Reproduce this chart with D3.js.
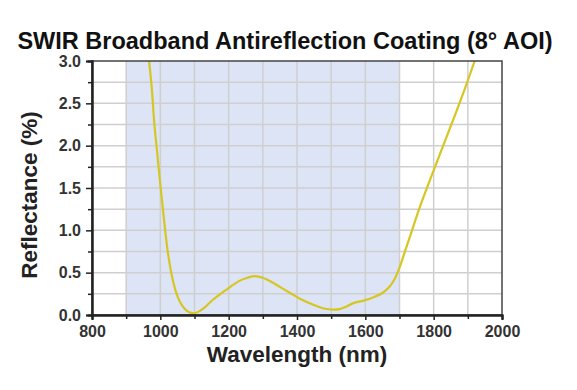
<!DOCTYPE html>
<html><head><meta charset="utf-8">
<script src="https://cdn.jsdelivr.net/npm/d3@7"></script>
<style>body{margin:0;background:#fff;font-family:"Liberation Sans",Arial,sans-serif;}</style>
</head><body><svg id="c" width="577" height="390"></svg>
<script>
const wavelength = [967,975,982,990,1001,1012,1023,1035,1046,1058,1070,1083,1098,1112,1130,1154,1180,1204,1230,1255,1277,1300,1330,1355,1380,1410,1448,1475,1500,1525,1545,1565,1595,1624,1650,1670,1685,1700,1715,1735,1760,1804,1850,1892,1920];
const reflectance = [3.0,2.68,2.28,1.95,1.5,1.08,0.71,0.44,0.27,0.15,0.08,0.035,0.02,0.04,0.09,0.18,0.26,0.33,0.4,0.44,0.46,0.44,0.38,0.32,0.26,0.19,0.12,0.08,0.065,0.07,0.1,0.14,0.17,0.21,0.26,0.33,0.42,0.56,0.74,0.98,1.28,1.75,2.23,2.68,3.0];
const band = [900,1700];
const xTicks = [800,1000,1200,1400,1600,1800,2000];
const yTicks = [0,0.5,1.0,1.5,2.0,2.5,3.0];
const title = "SWIR Broadband Antireflection Coating (8° AOI)";
const xTitle = "Wavelength (nm)";
const yTitle = "Reflectance (%)";

const svg = d3.select("#c");
const L=92,R=502,T=61,B=315;
const x = d3.scaleLinear().domain([800,2000]).range([L,R]);
const y = d3.scaleLinear().domain([0,3]).range([B,T]);

svg.append("rect").attr("x",x(band[0])).attr("y",T).attr("width",x(band[1])-x(band[0])).attr("height",B-T).attr("fill","#dde4f5");

const g = svg.append("g");
d3.range(900,2000,100).forEach(v=>g.append("line").attr("x1",x(v)).attr("x2",x(v)).attr("y1",T).attr("y2",B).attr("stroke","#cfcfcf").attr("stroke-width",1.5));
d3.range(0.25,3,0.25).forEach(v=>g.append("line").attr("x1",L).attr("x2",R).attr("y1",y(v)).attr("y2",y(v)).attr("stroke","#cfcfcf").attr("stroke-width",1.5));

svg.append("defs").append("clipPath").attr("id","cp").append("rect").attr("x",L).attr("y",T).attr("width",R-L).attr("height",B-T);
svg.append("path").datum(wavelength.map((w,i)=>[w,reflectance[i]]))
  .attr("clip-path","url(#cp)")
  .attr("d",d3.line().x(d=>x(d[0])).y(d=>y(d[1])).curve(d3.curveCatmullRom.alpha(0.5)))
  .attr("fill","none").attr("stroke","#d6c622").attr("stroke-width",2.2);

svg.append("rect").attr("x",L).attr("y",T).attr("width",R-L).attr("height",B-T).attr("fill","none").attr("stroke","#444").attr("stroke-width",1.5);

const xa = svg.append("g").attr("transform",`translate(0,${B})`)
  .call(d3.axisBottom(x).tickValues(xTicks).tickFormat(d3.format("d")).tickSize(5).tickPadding(6));
const xm = svg.append("g").attr("transform",`translate(0,${B})`)
  .call(d3.axisBottom(x).tickValues(d3.range(900,2000,200)).tickFormat("").tickSize(4));
const ya = svg.append("g").attr("transform",`translate(${L},0)`)
  .call(d3.axisLeft(y).tickValues(yTicks).tickFormat(d3.format(".1f")).tickSize(6).tickPadding(5));
const ym = svg.append("g").attr("transform",`translate(${L},0)`)
  .call(d3.axisLeft(y).tickValues(d3.range(0.25,3,0.5)).tickFormat("").tickSize(4));
[xa,xm,ya,ym].forEach(a=>{
  a.select(".domain").attr("stroke","#222").attr("stroke-width",2);
  a.selectAll(".tick line").attr("stroke","#222").attr("stroke-width",1.5);
  a.selectAll(".tick text").attr("font-family","'Liberation Sans',Arial,sans-serif").attr("font-weight","bold").attr("font-size",16).attr("fill","#333");
});

svg.append("text").attr("x",285).attr("y",49).attr("text-anchor","middle")
  .attr("font-weight","bold").attr("font-size",23.5).attr("fill","#111").text(title);
svg.append("text").attr("x",297).attr("y",362).attr("text-anchor","middle")
  .attr("font-weight","bold").attr("font-size",22.5).attr("fill","#222").text(xTitle);
svg.append("text").attr("transform","translate(37,195) rotate(-90)").attr("text-anchor","middle")
  .attr("font-weight","bold").attr("font-size",22.5).attr("fill","#222").text(yTitle);
</script></body></html>
